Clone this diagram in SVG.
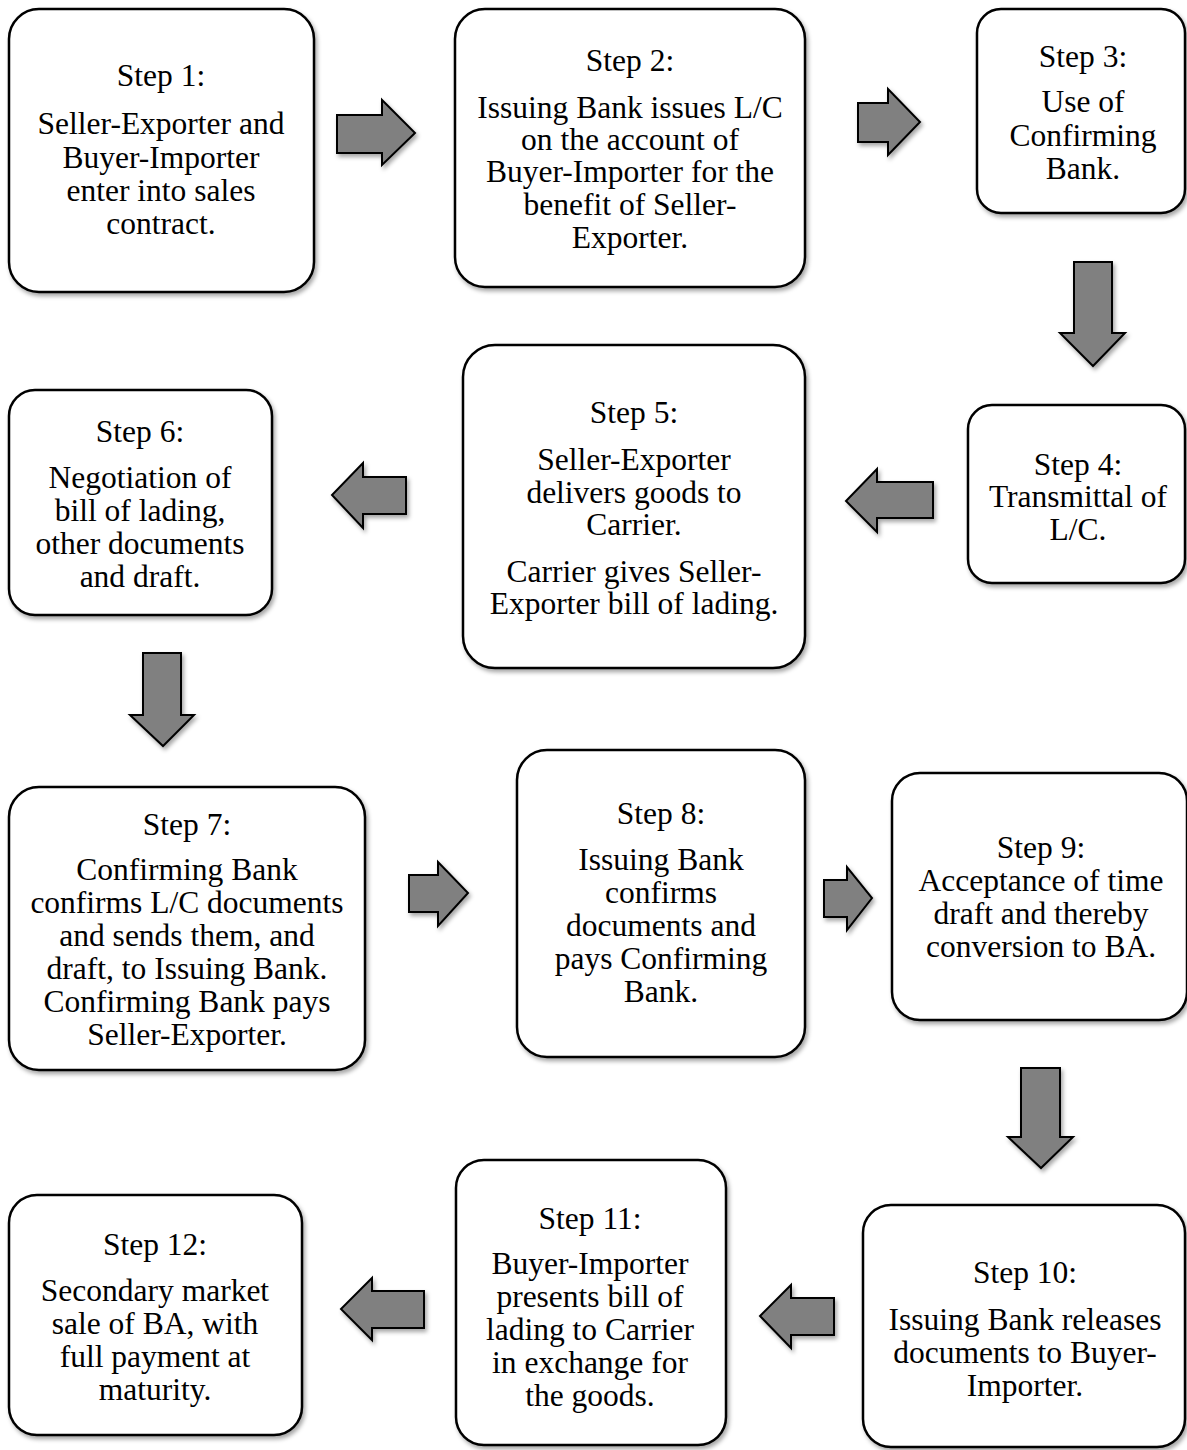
<svg xmlns="http://www.w3.org/2000/svg" width="1187" height="1450" viewBox="0 0 1187 1450">
<defs>
<filter id="sh" x="-10%" y="-10%" width="130%" height="130%">
<feDropShadow dx="2" dy="3" stdDeviation="2" flood-color="#000" flood-opacity="0.35"/>
</filter>
<style>
.box{fill:#fff;stroke:#000;stroke-width:2.5;filter:url(#sh)}
.arr{fill:#808080;stroke:#000;stroke-width:2;stroke-linejoin:miter;filter:url(#sh)}
text{font-family:"Liberation Serif","Times New Roman",serif;font-size:31.5px;fill:#000;text-anchor:middle}
</style>
</defs>
<rect width="1187" height="1450" fill="#fff"/>
<g id="connectors">
<path class="arr" d="M337,115 H382 V100 L415,133 L382,165 V153 H337 Z"/>
<path class="arr" d="M858,103 H888 V89 L920,122 L888,155 V142 H858 Z"/>
<path class="arr" d="M1074,262 H1112 V333 H1125 L1093,366 L1060,333 H1074 Z"/>
<path class="arr" d="M933,482 H877 V469 L846,501 L877,532 V518 H933 Z"/>
<path class="arr" d="M406,477 H363 V463 L332,495 L363,528 V514 H406 Z"/>
<path class="arr" d="M143,653 H181 V715 H194 L163,746 L130,715 H143 Z"/>
<path class="arr" d="M409,875 H438 V862 L468,893 L438,926 V912 H409 Z"/>
<path class="arr" d="M824,880 H847 V867 L872,898 L847,930 V917 H824 Z"/>
<path class="arr" d="M1021,1068 H1060 V1137 H1073 L1041,1168 L1008,1137 H1021 Z"/>
<path class="arr" d="M834,1298 H791 V1285 L760,1316 L791,1348 V1335 H834 Z"/>
<path class="arr" d="M424,1291 H372 V1278 L341,1309 L372,1340 V1328 H424 Z"/>
</g>
<g id="step1"><rect class="box" x="9" y="9" width="305" height="283" rx="30"/>
<text x="161" y="86">Step 1:</text><text x="161" y="134">Seller-Exporter and</text><text x="161" y="168">Buyer-Importer</text><text x="161" y="201">enter into sales</text><text x="161" y="234">contract.</text></g>
<g id="step2"><rect class="box" x="455" y="9" width="350" height="278" rx="30"/>
<text x="630" y="71">Step 2:</text><text x="630" y="118">Issuing Bank issues L/C</text><text x="630" y="150">on the account of</text><text x="630" y="182">Buyer-Importer for the</text><text x="630" y="215">benefit of Seller-</text><text x="630" y="248">Exporter.</text></g>
<g id="step3"><rect class="box" x="977" y="9" width="208" height="204" rx="24"/>
<text x="1083" y="67">Step 3:</text><text x="1083" y="112">Use of</text><text x="1083" y="146">Confirming</text><text x="1083" y="179">Bank.</text></g>
<g id="step4"><rect class="box" x="968" y="405" width="217" height="178" rx="24"/>
<text x="1078" y="475">Step 4:</text><text x="1078" y="507">Transmittal of</text><text x="1078" y="540">L/C.</text></g>
<g id="step5"><rect class="box" x="463" y="345" width="342" height="323" rx="32"/>
<text x="634" y="423">Step 5:</text><text x="634" y="470">Seller-Exporter</text><text x="634" y="503">delivers goods to</text><text x="634" y="535">Carrier.</text><text x="634" y="582">Carrier gives Seller-</text><text x="634" y="614">Exporter bill of lading.</text></g>
<g id="step6"><rect class="box" x="9" y="390" width="263" height="225" rx="26"/>
<text x="140" y="442">Step 6:</text><text x="140" y="488">Negotiation of</text><text x="140" y="521">bill of lading,</text><text x="140" y="554">other documents</text><text x="140" y="587">and draft.</text></g>
<g id="step7"><rect class="box" x="9" y="787" width="356" height="283" rx="30"/>
<text x="187" y="835">Step 7:</text><text x="187" y="880">Confirming Bank</text><text x="187" y="913">confirms L/C documents</text><text x="187" y="946">and sends them, and</text><text x="187" y="979">draft, to Issuing Bank.</text><text x="187" y="1012">Confirming Bank pays</text><text x="187" y="1045">Seller-Exporter.</text></g>
<g id="step8"><rect class="box" x="517" y="750" width="288" height="307" rx="30"/>
<text x="661" y="824">Step 8:</text><text x="661" y="870">Issuing Bank</text><text x="661" y="903">confirms</text><text x="661" y="936">documents and</text><text x="661" y="969">pays Confirming</text><text x="661" y="1002">Bank.</text></g>
<g id="step9"><rect class="box" x="892" y="773" width="295" height="247" rx="28"/>
<text x="1041" y="858">Step 9:</text><text x="1041" y="891">Acceptance of time</text><text x="1041" y="924">draft and thereby</text><text x="1041" y="957">conversion to BA.</text></g>
<g id="step10"><rect class="box" x="863" y="1205" width="322" height="242" rx="28"/>
<text x="1025" y="1283">Step 10:</text><text x="1025" y="1330">Issuing Bank releases</text><text x="1025" y="1363">documents to Buyer-</text><text x="1025" y="1396">Importer.</text></g>
<g id="step11"><rect class="box" x="456" y="1160" width="270" height="285" rx="28"/>
<text x="590" y="1229">Step 11:</text><text x="590" y="1274">Buyer-Importer</text><text x="590" y="1307">presents bill of</text><text x="590" y="1340">lading to Carrier</text><text x="590" y="1373">in exchange for</text><text x="590" y="1406">the goods.</text></g>
<g id="step12"><rect class="box" x="9" y="1195" width="293" height="240" rx="28"/>
<text x="155" y="1255">Step 12:</text><text x="155" y="1301">Secondary market</text><text x="155" y="1334">sale of BA, with</text><text x="155" y="1367">full payment at</text><text x="155" y="1400">maturity.</text></g>
</svg>
